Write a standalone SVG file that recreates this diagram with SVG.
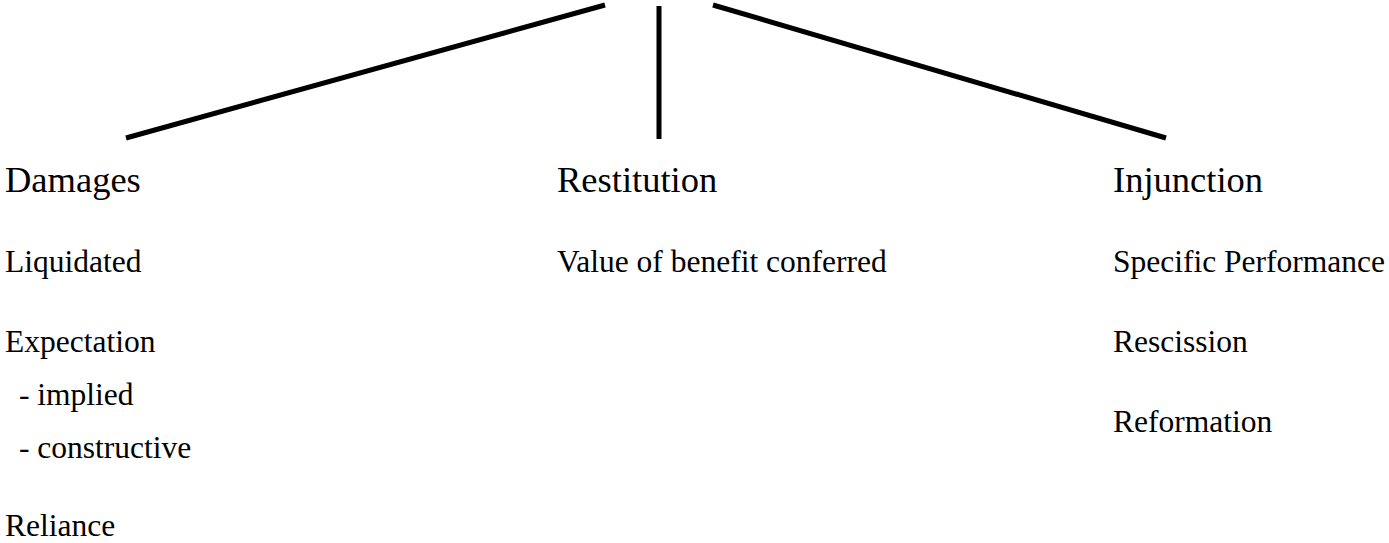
<svg xmlns="http://www.w3.org/2000/svg" width="1389" height="543" viewBox="0 0 1389 543">
<style>
.h{font-family:"Liberation Serif","Times New Roman",serif;font-size:36.5px;fill:#000}
.t{font-family:"Liberation Serif","Times New Roman",serif;font-size:31.5px;fill:#000}
.c{stroke:#000;stroke-width:5;fill:none}
</style>
<rect width="1389" height="543" fill="#fff"/>
<g id="connectors">
<line class="c" x1="605" y1="5" x2="126" y2="138"/>
<line class="c" x1="659" y1="6" x2="659" y2="139"/>
<line class="c" x1="713" y1="5" x2="1166" y2="138"/>
</g>
<g id="damages">
<text class="h" x="5" y="192">Damages</text>
<text class="t" x="5" y="272">Liquidated</text>
<text class="t" x="5" y="352">Expectation</text>
<text class="t" x="19" y="405">- implied</text>
<text class="t" x="19" y="458">- constructive</text>
<text class="t" x="5" y="536">Reliance</text>
</g>
<g id="restitution">
<text class="h" x="557" y="192">Restitution</text>
<text class="t" x="557" y="272">Value of benefit conferred</text>
</g>
<g id="injunction">
<text class="h" x="1113" y="192">Injunction</text>
<text class="t" x="1113" y="272">Specific Performance</text>
<text class="t" x="1113" y="352">Rescission</text>
<text class="t" x="1113" y="432">Reformation</text>
</g>
</svg>
